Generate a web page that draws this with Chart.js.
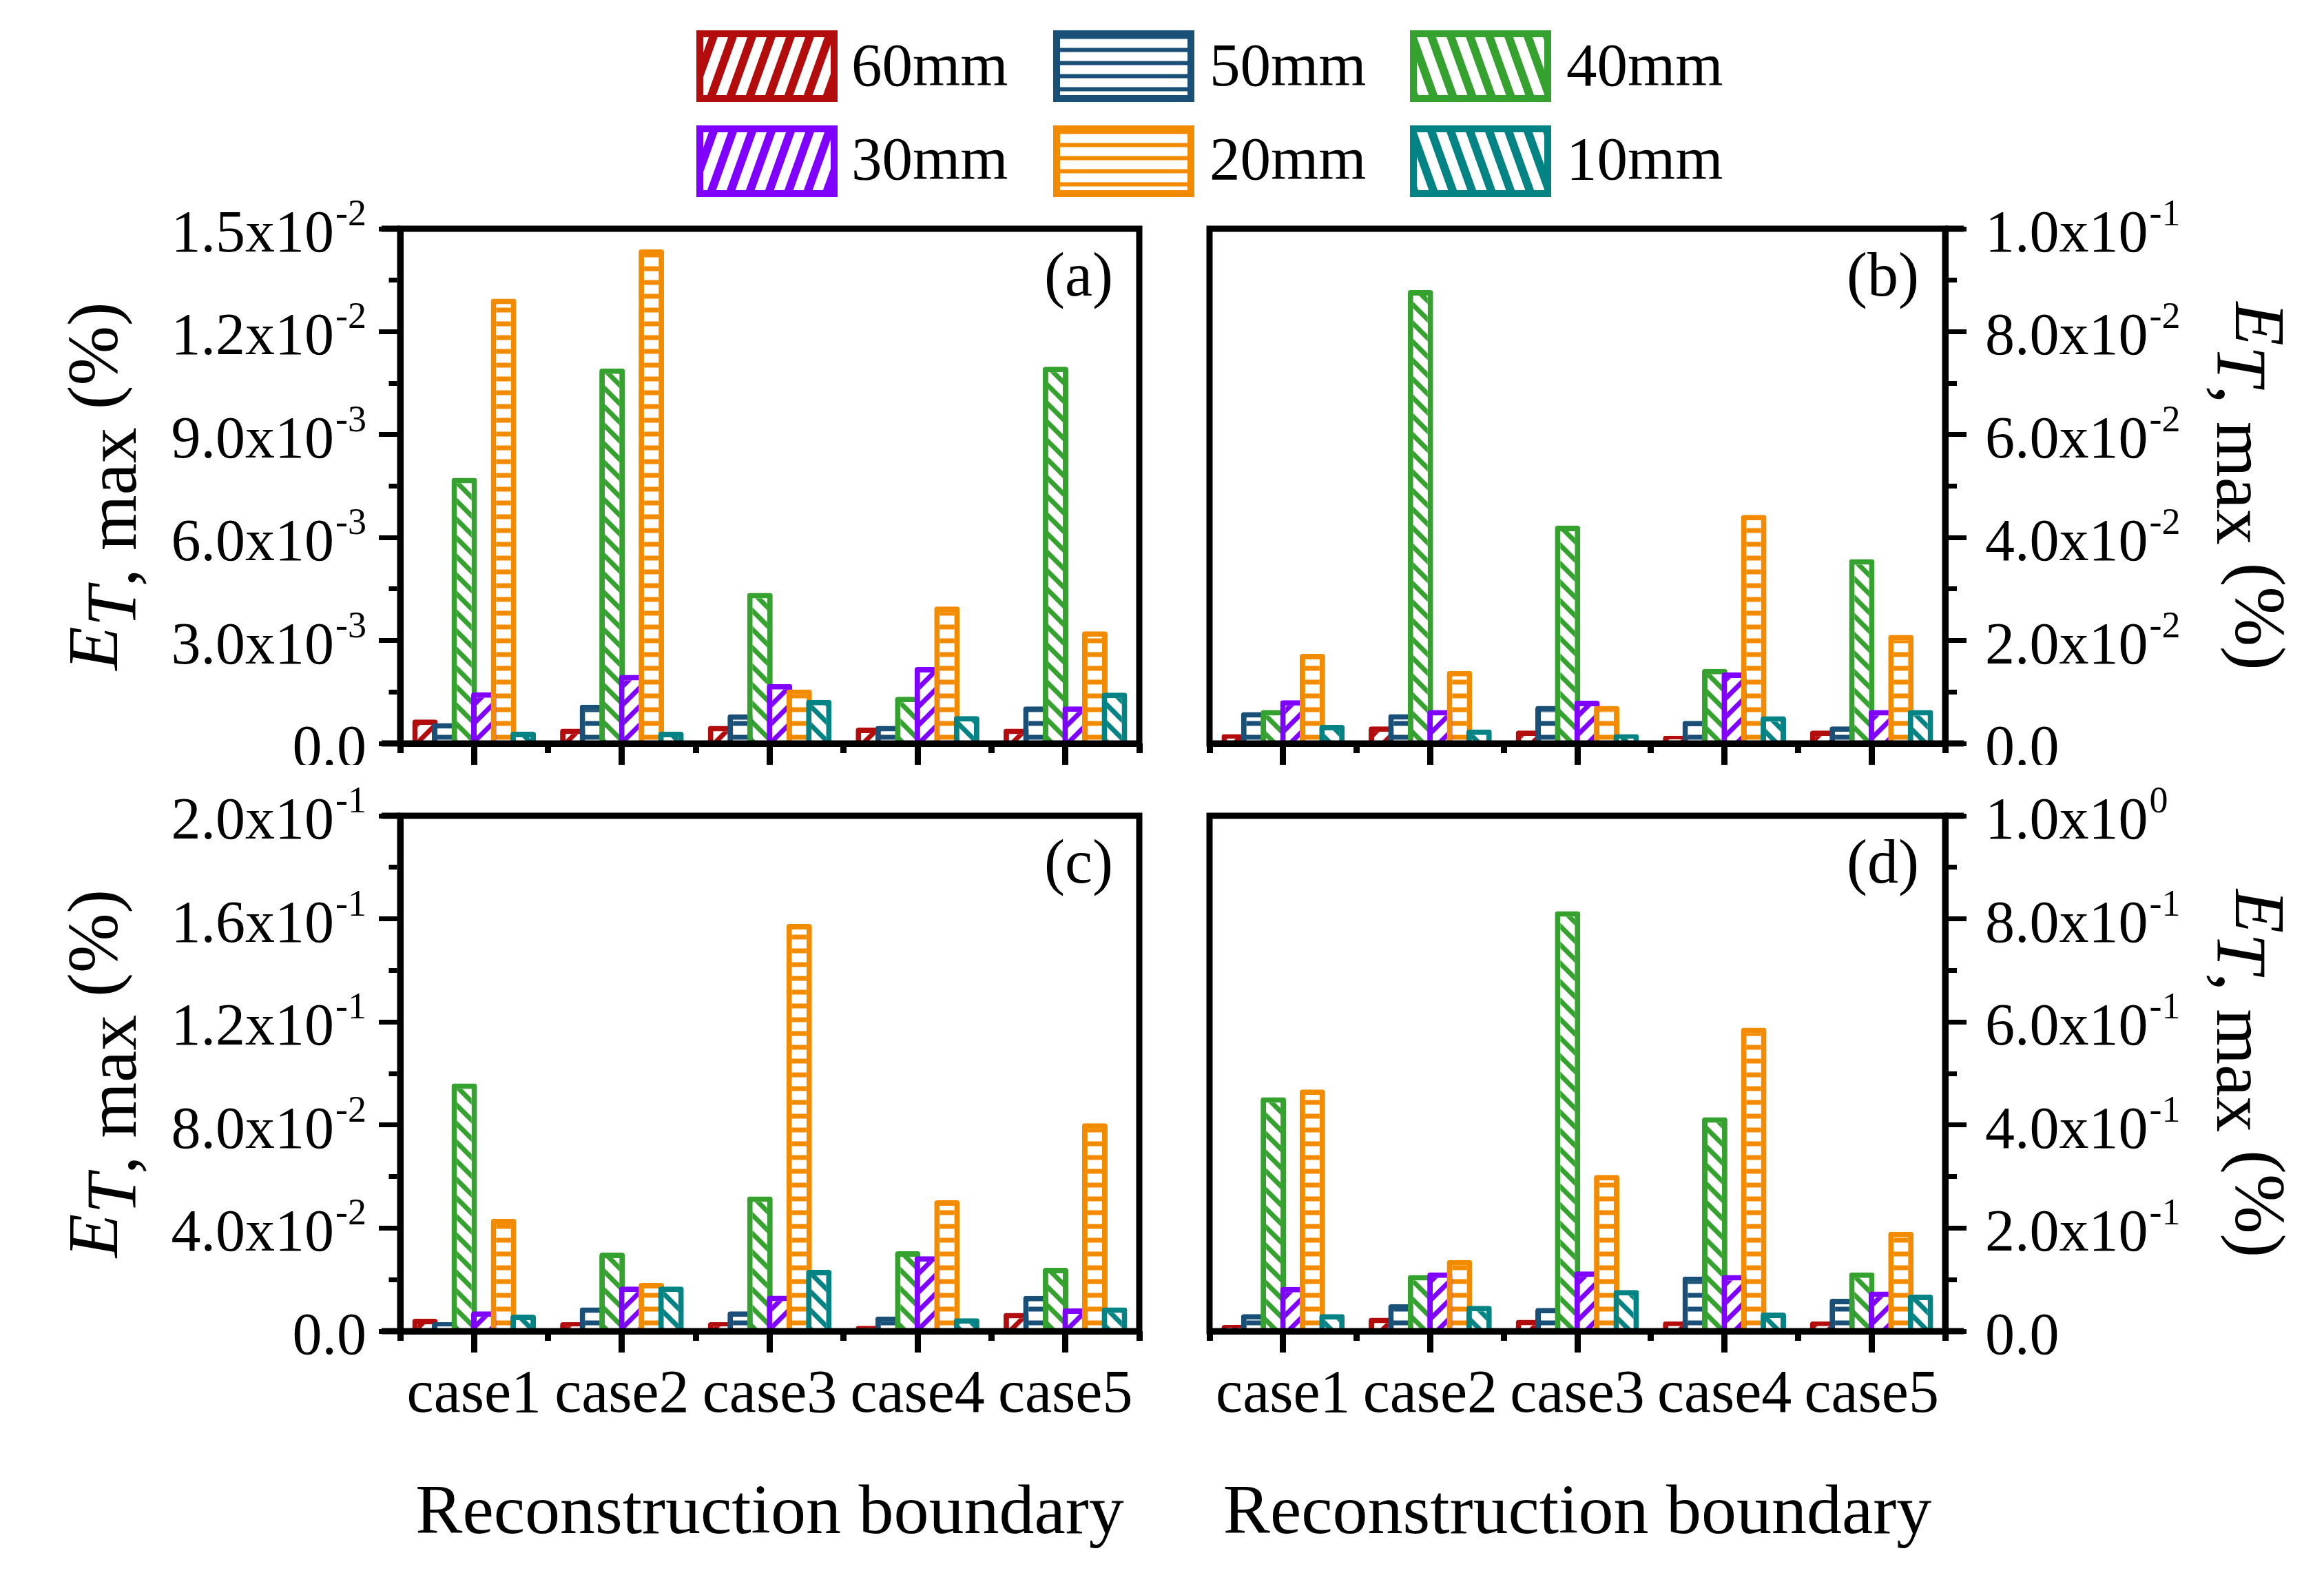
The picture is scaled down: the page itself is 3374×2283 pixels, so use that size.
<!DOCTYPE html>
<html>
<head>
<meta charset="utf-8">
<script src="https://cdn.jsdelivr.net/npm/chart.js@4.4.1/dist/chart.umd.min.js"></script>
<style>
html, body { margin: 0; padding: 0; background: #fff; }
#wrap { position: relative; width: 3374px; height: 2283px; overflow: hidden; background: #fff; }
#wrap canvas { position: absolute; }
.lg-txt { position: absolute; font-family: "Liberation Serif"; font-size: 89px; line-height: 89px; color: #000; white-space: nowrap; }
</style>
</head>
<body>
<div id="wrap">
  <canvas id="pa" width="1700" height="830" style="left:0px;top:280px;width:1700px;height:830px"></canvas>
  <canvas id="pb" width="1674" height="830" style="left:1700px;top:280px;width:1674px;height:830px"></canvas>
  <canvas id="pc" width="1700" height="1153" style="left:0px;top:1130px;width:1700px;height:1153px"></canvas>
  <canvas id="pd" width="1674" height="1153" style="left:1700px;top:1130px;width:1674px;height:1153px"></canvas>
</div>
<script>
// categories / series
var caseLabels = ['case1', 'case2', 'case3', 'case4', 'case5'];
var seriesNames = ['60mm', '50mm', '40mm', '30mm', '20mm', '10mm'];
var seriesColors = ['#b30c0c', '#1a4f78', '#35a12e', '#8000ff', '#f38b00', '#048384'];
var seriesHatch = ['fwd', 'horiz', 'back', 'fwd', 'horiz', 'back'];

// (a)
var a60 = [0.00070, 0.00043, 0.00051, 0.00046, 0.00043];
var a50 = [0.00059, 0.00113, 0.00085, 0.00051, 0.00108];
var a40 = [0.00774, 0.01093, 0.00439, 0.00136, 0.01098];
var a30 = [0.00149, 0.00200, 0.00173, 0.00223, 0.00108];
var a20 = [0.01296, 0.01440, 0.00157, 0.00399, 0.00327];
var a10 = [0.00034, 0.00034, 0.00127, 0.00080, 0.00148];
// (b)
var b60 = [0.0018, 0.0033, 0.0025, 0.0015, 0.0025];
var b50 = [0.0061, 0.0057, 0.0073, 0.0044, 0.0033];
var b40 = [0.0065, 0.0881, 0.0423, 0.0145, 0.0358];
var b30 = [0.0084, 0.0065, 0.0083, 0.0138, 0.0065];
var b20 = [0.0174, 0.0141, 0.0073, 0.0444, 0.0211];
var b10 = [0.0036, 0.0027, 0.0018, 0.0053, 0.0065];
// (c)
var c60 = [0.0048, 0.0035, 0.0035, 0.0021, 0.0071];
var c50 = [0.0035, 0.0092, 0.0077, 0.0057, 0.0137];
var c40 = [0.0961, 0.0305, 0.0523, 0.0310, 0.0246];
var c30 = [0.0077, 0.0173, 0.0138, 0.0291, 0.0088];
var c20 = [0.0436, 0.0187, 0.1580, 0.0508, 0.0807];
var c10 = [0.0064, 0.0173, 0.0238, 0.0050, 0.0092];
// (d)
var d60 = [0.012, 0.026, 0.022, 0.019, 0.019];
var d50 = [0.033, 0.052, 0.045, 0.106, 0.063];
var d40 = [0.454, 0.109, 0.815, 0.415, 0.114];
var d30 = [0.086, 0.114, 0.116, 0.109, 0.077];
var d20 = [0.469, 0.138, 0.303, 0.589, 0.193];
var d10 = [0.033, 0.049, 0.080, 0.036, 0.071];

// y ticks (major + minor) and the major labels, "^" = superscript
var yTicksA = [0, 0.0015, 0.003, 0.0045, 0.006, 0.0075, 0.009, 0.0105, 0.012, 0.0135, 0.015];
var yLabelsA = ['0.0', '3.0x10^-3', '6.0x10^-3', '9.0x10^-3', '1.2x10^-2', '1.5x10^-2'];
var yTicksB = [0, 0.01, 0.02, 0.03, 0.04, 0.05, 0.06, 0.07, 0.08, 0.09, 0.1];
var yLabelsB = ['0.0', '2.0x10^-2', '4.0x10^-2', '6.0x10^-2', '8.0x10^-2', '1.0x10^-1'];
var yTicksC = [0, 0.02, 0.04, 0.06, 0.08, 0.1, 0.12, 0.14, 0.16, 0.18, 0.2];
var yLabelsC = ['0.0', '4.0x10^-2', '8.0x10^-2', '1.2x10^-1', '1.6x10^-1', '2.0x10^-1'];
var yTicksD = [0, 0.1, 0.2, 0.3, 0.4, 0.5, 0.6, 0.7, 0.8, 0.9, 1.0];
var yLabelsD = ['0.0', '2.0x10^-1', '4.0x10^-1', '6.0x10^-1', '8.0x10^-1', '1.0x10^0'];

var FONT = '"Liberation Serif"';

//ハッチング模様
function makeTile(color, kind, period, thick, steep) {
  var c = document.createElement('canvas');
  var w, h;
  if (kind == 'horiz') { w = 8; h = period; }
  else { w = period; h = Math.round(period * steep); }
  c.width = w; c.height = h;
  var g = c.getContext('2d');
  g.fillStyle = '#fff';
  g.fillRect(0, 0, w, h);
  if (kind == 'horiz') {
    g.fillStyle = color;
    g.fillRect(0, (h - thick) / 2, w, thick);
  } else {
    g.strokeStyle = color;
    g.lineWidth = thick;
    g.beginPath();
    for (var k = -1; k <= 1; k++) {
      if (kind == 'fwd') {
        g.moveTo(k * w - 0.5 * w, h * 1.5); g.lineTo(k * w + 1.5 * w, -h * 0.5);
      } else {
        g.moveTo(k * w - 0.5 * w, -h * 0.5); g.lineTo(k * w + 1.5 * w, h * 1.5);
      }
    }
    g.stroke();
  }
  return c;
}
var patCtx = document.createElement('canvas').getContext('2d');
function barPattern(i) {
  var t = seriesHatch[i] == 'horiz' ? makeTile(seriesColors[i], 'horiz', 20, 7, 1) : makeTile(seriesColors[i], seriesHatch[i], 27, 7, 1);
  return patCtx.createPattern(t, 'repeat');
}

//描画順: 左のバーから順に描く(右のバーが上)
var orderPlugin = {
  id: 'drawOrder',
  beforeDatasetsDraw: function(chart) {
    var metas = chart.getSortedVisibleDatasetMetas();
    for (var i = 0; i < metas.length; i++) metas[i].controller.draw();
    return false;
  }
};

function drawTitle(ctx, area, side) {
  var big = 104;
  var parts = [
    {t: 'E', f: 'italic ' + big + 'px ' + FONT, dy: 0},
    {t: 'T', f: 'italic ' + big + 'px ' + FONT, dy: 27},
    {t: ', max', f: big + 'px ' + FONT, dy: 27},
    {t: ' (%)', f: big + 'px ' + FONT, dy: 0}
  ];
  var total = 0;
  parts.forEach(function(p) { ctx.font = p.f; p.w = ctx.measureText(p.t).width; total += p.w; });
  var cy = (area.top + area.bottom) / 2;
  ctx.save();
  if (side == 'left') { ctx.translate(area.left - 411, cy); ctx.rotate(-Math.PI / 2); }
  else { ctx.translate(area.right + 422, cy); ctx.rotate(Math.PI / 2); }
  ctx.textAlign = 'left';
  ctx.textBaseline = 'alphabetic';
  ctx.fillStyle = '#000';
  var x = -total / 2;
  parts.forEach(function(p) { ctx.font = p.f; ctx.fillText(p.t, x, p.dy); x += p.w; });
  ctx.restore();
}

function makeDecor(side, yTicks, yLabels, letter) {
  return {
    id: 'decor',
    afterDraw: function(chart) {
      var ctx = chart.ctx, area = chart.chartArea, ys = chart.scales.y;
      ctx.save();
      //枠線
      ctx.strokeStyle = '#000';
      ctx.lineWidth = 9;
      ctx.lineJoin = 'miter';
      ctx.strokeRect(area.left, area.top, area.right - area.left, area.bottom - area.top);
      ctx.beginPath();
      if (side == 'left') {
        ctx.moveTo(area.left - 27, area.top); ctx.lineTo(area.left, area.top);
        ctx.moveTo(area.left - 27, area.bottom); ctx.lineTo(area.left, area.bottom);
      } else {
        ctx.moveTo(area.right, area.top); ctx.lineTo(area.right + 27, area.top);
        ctx.moveTo(area.right, area.bottom); ctx.lineTo(area.right + 27, area.bottom);
      }
      ctx.stroke();
      //目盛ラベル (上付き指数)
      var tickFont = '86px ' + FONT, supFont = '54px ' + FONT;
      ctx.fillStyle = '#000';
      ctx.textAlign = 'left';
      ctx.textBaseline = 'alphabetic';
      for (var j = 0; j < yTicks.length; j += 2) {
        var y = ys.getPixelForValue(yTicks[j]);
        var sp = yLabels[j / 2].split('^');
        ctx.font = tickFont;
        var mw = ctx.measureText(sp[0]).width;
        ctx.font = supFont;
        var sw = sp[1] ? ctx.measureText(sp[1]).width + 2 : 0;
        var x0 = side == 'left' ? area.left - 49 - sw - mw : area.right + 58;
        ctx.font = tickFont;
        ctx.fillText(sp[0], x0, y + 33);
        if (sp[1]) { ctx.font = supFont; ctx.fillText(sp[1], x0 + mw + 2, y - 5); }
      }
      //パネル記号
      ctx.font = '90px ' + FONT;
      ctx.textAlign = 'right';
      ctx.fillText(letter, area.right - 38, area.top + 97);
      ctx.restore();
      drawTitle(ctx, area, side);
    }
  };
}

function makeChart(id, series, yMax, yTicks, yLabels, side, letter, bottomRow) {
  var pad = side == 'left'
    ? {left: 0, right: 46, top: bottomRow ? 54 : 52, bottom: bottomRow ? 24 : 0}
    : {left: 56, right: 0, top: bottomRow ? 54 : 52, bottom: bottomRow ? 24 : 0};
  var yW = side == 'left' ? 581 : 550;
  var xH = bottomRow ? 327 : 31;
  var minorDash = side == 'left' ? [0, 14.5, 12, 300] : [12, 300];
  var datasets = [];
  for (var i = 0; i < series.length; i++) {
    datasets.push({
      label: seriesNames[i],
      data: series[i],
      backgroundColor: barPattern(i),
      borderColor: seriesColors[i],
      borderWidth: 8,
      borderRadius: 4,
      borderSkipped: 'start',
      categoryPercentage: 0.797,
      barPercentage: 1.3
    });
  }
  return new Chart(document.getElementById(id), {
    type: 'bar',
    data: {labels: caseLabels, datasets: datasets},
    options: {
      responsive: false,
      animation: false,
      devicePixelRatio: 1,
      events: [],
      layout: {padding: pad},
      plugins: {legend: {display: false}, tooltip: {enabled: false}},
      scales: {
        x: {
          type: 'category', position: 'bottom', offset: true, weight: 1, z: 1,
          grid: {offset: false, drawOnChartArea: false, drawTicks: true, tickLength: 31, tickWidth: 9, tickColor: '#000'},
          border: {display: true, width: 9, color: '#000'},
          ticks: {display: bottomRow, color: '#000', font: {family: 'Liberation Serif', size: 88}, padding: 10, maxRotation: 0, autoSkip: false},
          title: {display: bottomRow, text: 'Reconstruction boundary', color: '#000', font: {family: 'Liberation Serif', size: 102}, padding: 0},
          afterFit: function(s) { s.height = xH; }
        },
        x2: {
          type: 'category', axis: 'x', position: 'bottom', offset: true, weight: 0, z: 1,
          grid: {offset: true, drawOnChartArea: false, drawTicks: true, tickLength: 14, tickWidth: 9, tickColor: '#000'},
          border: {display: false},
          ticks: {display: false},
          afterFit: function(s) { s.height = 0; }
        },
        y: {
          type: 'linear', position: side, min: 0, max: yMax, z: 1,
          afterBuildTicks: function(s) { s.ticks = yTicks.map(function(v) { return {value: v}; }); },
          afterFit: function(s) { s.width = yW; },
          ticks: {display: false},
          grid: {
            drawOnChartArea: false, drawTicks: true, tickLength: 31, tickWidth: 7, tickColor: '#000',
            tickBorderDash: function(c) { return c.index % 2 ? minorDash : []; },
            tickBorderDashOffset: 0
          },
          border: {display: true, width: 9, color: '#000'}
        }
      }
    },
    plugins: [orderPlugin, makeDecor(side, yTicks, yLabels, letter)]
  });
}

makeChart('pa', [a60, a50, a40, a30, a20, a10], 0.015, yTicksA, yLabelsA, 'left', '(a)', false);
makeChart('pb', [b60, b50, b40, b30, b20, b10], 0.1, yTicksB, yLabelsB, 'right', '(b)', false);
makeChart('pc', [c60, c50, c40, c30, c20, c10], 0.2, yTicksC, yLabelsC, 'left', '(c)', true);
makeChart('pd', [d60, d50, d40, d30, d20, d10], 1.0, yTicksD, yLabelsD, 'right', '(d)', true);

//凡例 (2行x3列)
var lgBoxX = [1011, 1529, 2047];
var lgTxtX = [1236, 1756, 2274];
var lgBoxY = [44, 182];
var lgTxtY = [50, 186];
var wrap = document.getElementById('wrap');
for (var i = 0; i < seriesNames.length; i++) {
  var col = i % 3, row = Math.floor(i / 3);
  var bw = 205, bh = 104;
  var cv = document.createElement('canvas');
  cv.width = bw; cv.height = bh;
  cv.style.left = lgBoxX[col] + 'px';
  cv.style.top = lgBoxY[row] + 'px';
  cv.style.width = bw + 'px';
  cv.style.height = bh + 'px';
  var g = cv.getContext('2d');
  var tile = seriesHatch[i] == 'horiz' ? makeTile(seriesColors[i], 'horiz', 19, 6, 1) : makeTile(seriesColors[i], seriesHatch[i], 28, 12, 2.8);
  g.fillStyle = g.createPattern(tile, 'repeat');
  g.fillRect(0, 0, bw, bh);
  g.strokeStyle = seriesColors[i];
  g.lineWidth = 10;
  g.strokeRect(5, 5, bw - 10, bh - 10);
  wrap.appendChild(cv);
  var sp = document.createElement('span');
  sp.className = 'lg-txt';
  sp.textContent = seriesNames[i];
  sp.style.left = lgTxtX[col] + 'px';
  sp.style.top = lgTxtY[row] + 'px';
  wrap.appendChild(sp);
}
</script>
</body>
</html>
